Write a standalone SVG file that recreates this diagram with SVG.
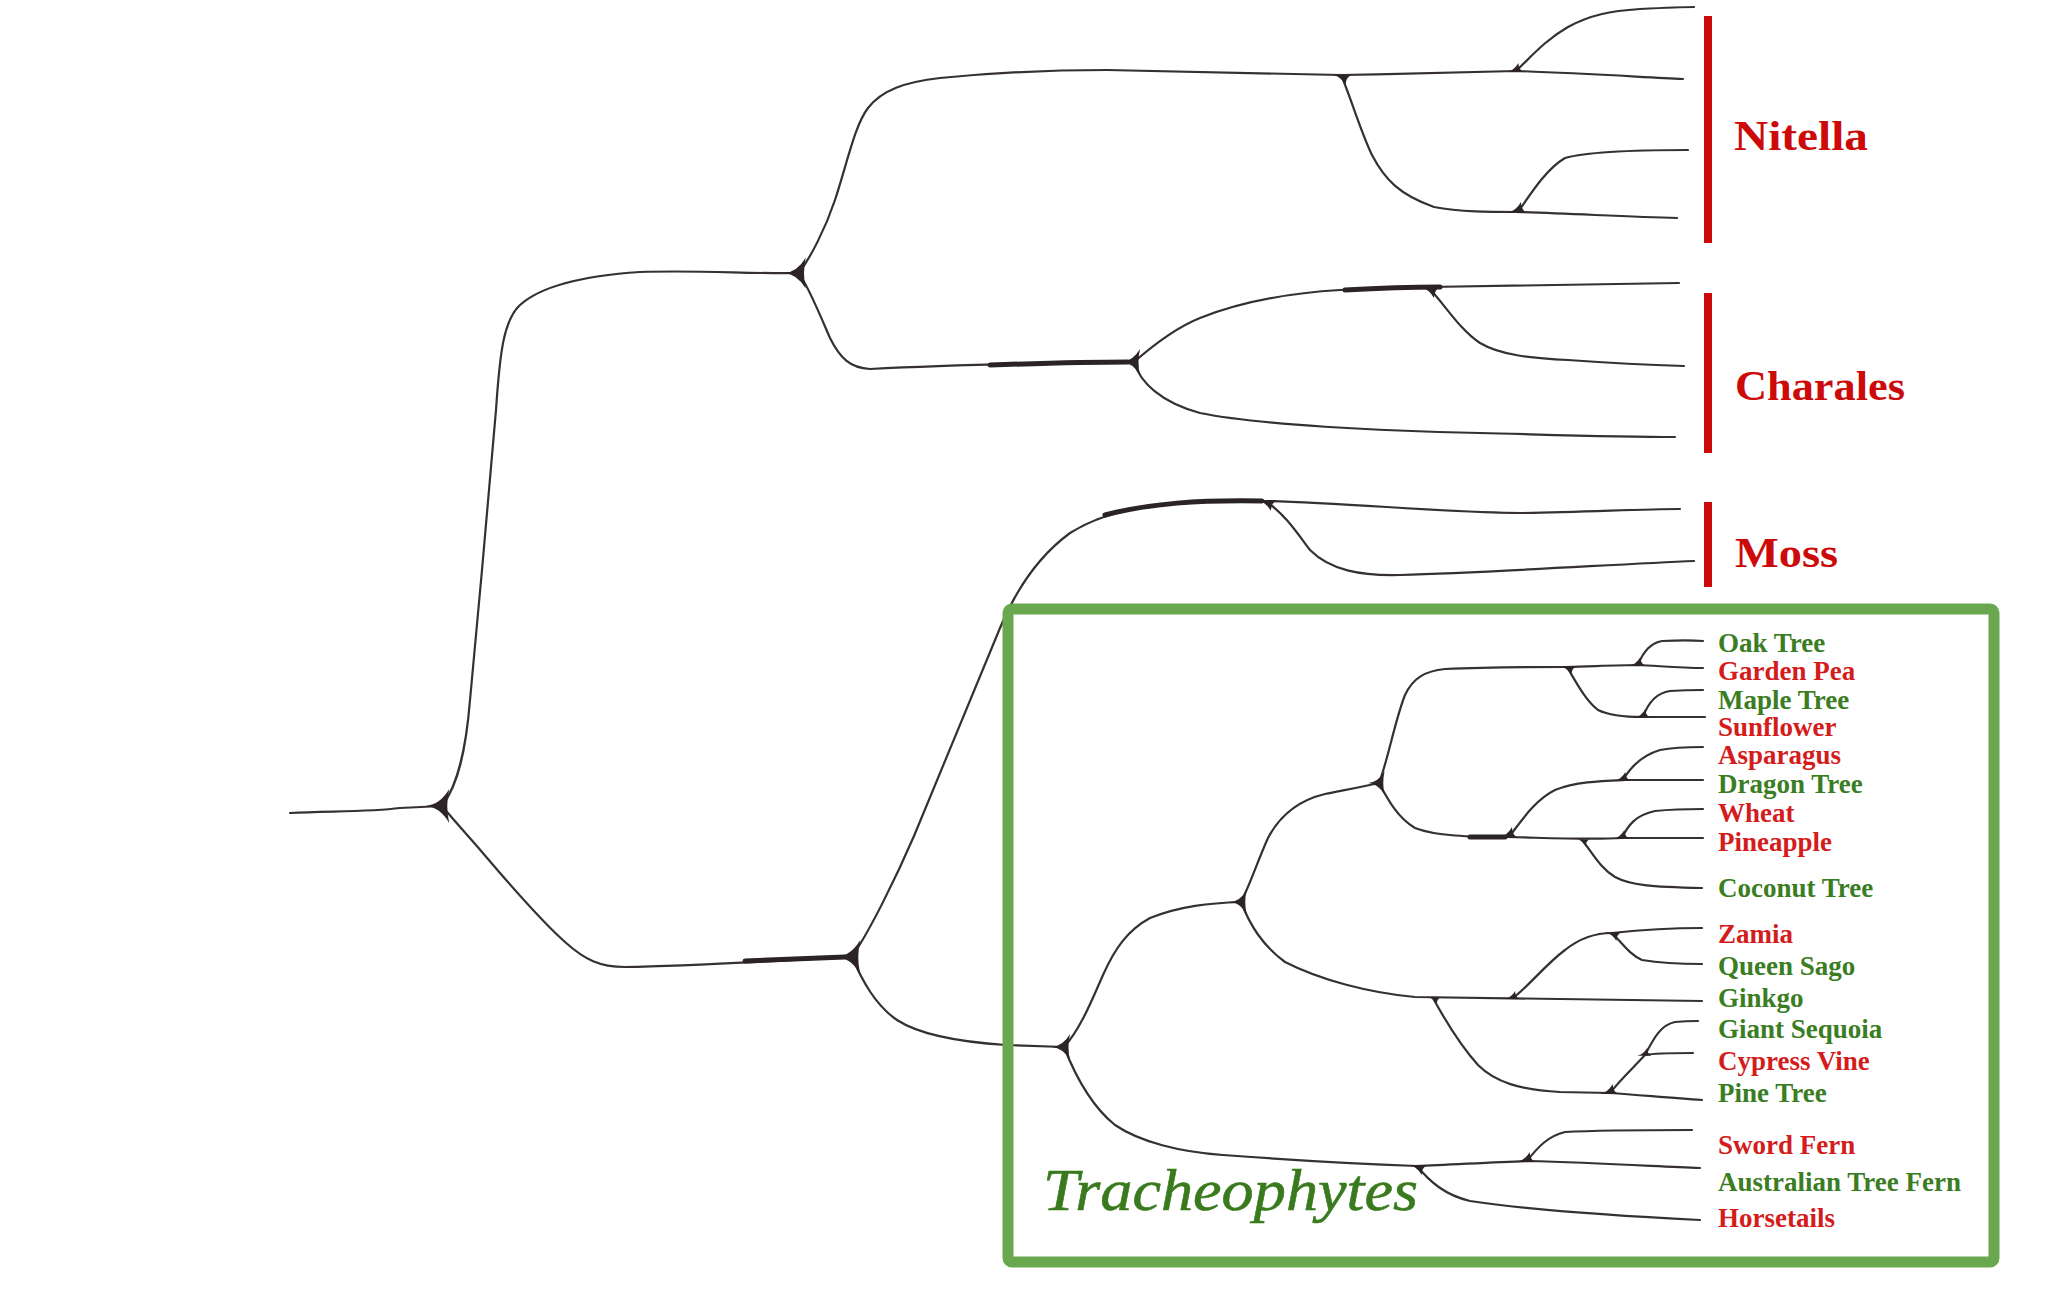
<svg xmlns="http://www.w3.org/2000/svg" xmlns:xlink="http://www.w3.org/1999/xlink" width="2048" height="1293" viewBox="0 0 2048 1293">
<style>
.br{fill:none;stroke:#363032;stroke-width:2.2;stroke-linecap:round;stroke-linejoin:round}
.thick{fill:none;stroke:#2b2326;stroke-width:5;stroke-linecap:round}
.lbl{font-family:"Liberation Serif","Times New Roman",serif;font-weight:bold;font-size:27px}
.g{fill:#3a7d22}
.r{fill:#d41c1c}
.clade{font-family:"Liberation Serif","Times New Roman",serif;font-weight:bold;font-size:43px;fill:#cc0a0a}
.bar{stroke:#cc0a0a;stroke-width:8}
#connectors use{fill:#2b2326}
</style>
<defs>
<path id="fork" d="M-14,0 Q-3,-1 4,-13 Q1,0 4,13 Q-3,1 -14,0 Z"/>
<path id="wedgeUp" d="M-11,1 Q-2,-1 3,-10 Q3,-2 9,1 Z"/>
<path id="wedgeDown" d="M-11,-1 Q-2,1 3,10 Q3,2 9,-1 Z"/>
</defs>
<rect width="2048" height="1293" fill="#ffffff"/>

<g id="connectors">
<!-- root -->
<path class="br" d="M290,813 C330,811 370,812 400,808 L442,806"/>
<path class="br" d="M442,806 C458,785 466,750 470,700 L482,570 L496,410 C500,350 504,320 520,305 C540,287 580,276 640,272 C700,270 750,274 797,273"/>
<path class="br" d="M442,806 C458,825 470,838 482,852 C510,885 540,920 565,942 C585,960 600,967 625,967 C680,966 760,962 852,957"/>
<!-- Nitella / Charales -->
<path class="br" d="M799,273 C810,258 825,230 835,200 C848,160 855,125 868,108 C882,90 905,82 940,78 C1000,72 1050,70 1107,70 C1180,72 1260,74 1341,75"/>
<path class="br" d="M1341,75 C1400,74 1460,72 1516,71 C1580,73 1640,77 1683,79"/>
<path class="br" d="M1516,71 C1530,58 1545,40 1568,27 C1590,15 1610,11 1640,9 C1660,8 1680,7 1694,7"/>
<path class="br" d="M1341,75 C1350,95 1360,130 1372,155 C1385,180 1400,195 1434,207 C1460,212 1490,212 1518,212 C1580,214 1630,217 1677,218"/>
<path class="br" d="M1518,212 C1530,195 1545,170 1565,158 C1590,151 1640,150 1688,150"/>
<path class="br" d="M799,273 C810,290 820,315 830,338 C840,358 850,368 870,369 C930,366 1050,363 1134,362"/>
<path class="br" d="M1134,362 C1150,348 1175,328 1200,318 C1240,302 1290,293 1340,290 C1380,288 1410,287 1429,287 C1520,286 1600,284 1679,283"/>
<path class="br" d="M1429,288 C1445,305 1460,330 1480,343 C1500,355 1530,358 1568,360 C1610,363 1650,365 1684,366"/>
<path class="br" d="M1134,362 C1140,382 1160,402 1200,413 C1260,425 1380,431 1480,433 C1560,435 1620,437 1675,437"/>
<!-- Moss -->
<path class="br" d="M852,957 C870,930 895,880 914,836 L1000,628 C1018,585 1040,555 1070,533 C1110,508 1160,500 1267,501"/>
<path class="br" d="M1267,501 C1350,503 1450,513 1523,513 C1590,512 1640,509 1680,509"/>
<path class="br" d="M1267,502 C1285,515 1295,530 1310,550 C1330,570 1360,576 1400,575 C1500,572 1620,564 1694,561"/>
<!-- Tracheophytes -->
<path class="br" d="M852,957 C862,980 875,1005 897,1020 C920,1035 960,1042 1006,1045 L1064,1047"/>
<path class="br" d="M1064,1047 C1080,1030 1092,1000 1103,975 C1115,948 1128,930 1150,918 C1180,906 1210,903 1241,902"/>
<path class="br" d="M1064,1047 C1075,1075 1090,1105 1115,1125 C1140,1142 1180,1152 1223,1155 C1290,1160 1360,1164 1417,1166"/>
<path class="br" d="M1417,1166 C1450,1165 1490,1162 1527,1161 C1600,1163 1650,1166 1700,1168"/>
<path class="br" d="M1527,1161 C1538,1147 1548,1136 1565,1132 C1600,1130 1650,1130 1692,1130"/>
<path class="br" d="M1417,1166 C1430,1182 1445,1195 1470,1201 C1530,1210 1620,1216 1700,1220"/>
<path class="br" d="M1241,902 C1250,925 1262,945 1285,962 C1320,980 1370,993 1415,997 C1500,999 1600,999 1702,1001"/>
<path class="br" d="M1433,998 C1445,1020 1460,1045 1478,1065 C1495,1082 1520,1090 1560,1092 L1610,1093 C1640,1095 1670,1098 1702,1100"/>
<path class="br" d="M1610,1093 C1620,1080 1633,1068 1645,1055 C1653,1040 1660,1025 1675,1022 C1685,1021 1692,1021 1698,1021"/>
<path class="br" d="M1645,1055 C1655,1053 1670,1053 1693,1053"/>
<path class="br" d="M1513,998 C1530,985 1545,965 1565,950 C1580,938 1595,933 1612,933 C1640,930 1670,928 1702,928"/>
<path class="br" d="M1612,933 C1622,943 1630,955 1642,960 C1660,963 1680,964 1702,964"/>
<path class="br" d="M1241,902 C1250,885 1258,860 1268,838 C1280,815 1300,800 1325,794 C1345,790 1362,787 1379,783"/>
<path class="br" d="M1379,783 C1388,760 1395,720 1405,695 C1413,678 1425,671 1445,669 C1490,667 1530,667 1567,667 C1600,666 1620,665 1638,665 C1660,666 1680,668 1703,668"/>
<path class="br" d="M1638,665 C1643,652 1650,643 1662,641 C1680,640 1692,640 1703,641"/>
<path class="br" d="M1567,667 C1575,680 1585,700 1598,710 C1610,716 1625,717 1643,717 C1665,717 1685,717 1705,717"/>
<path class="br" d="M1643,717 C1648,703 1656,693 1670,691 C1685,690 1695,690 1703,690"/>
<path class="br" d="M1379,783 C1388,800 1398,818 1415,828 C1435,836 1470,837 1509,837 C1550,838 1590,840 1622,838 C1650,838 1680,838 1703,838"/>
<path class="br" d="M1509,837 C1522,820 1535,800 1555,790 C1575,782 1600,781 1623,780 C1650,780 1680,780 1703,780"/>
<path class="br" d="M1623,780 C1630,768 1640,756 1660,750 C1675,747 1690,747 1703,747"/>
<path class="br" d="M1622,838 C1628,825 1636,815 1655,811 C1675,809 1690,809 1703,809"/>
<path class="br" d="M1582,840 C1592,852 1600,868 1615,877 C1630,885 1650,887 1702,888"/>
<!-- thickened segments -->
<path class="thick" d="M745,961 C790,959 820,958 845,957"/>
<path class="thick" d="M990,365 C1050,363 1100,362 1128,362"/>
<path class="thick" d="M1345,290 C1380,288 1410,287 1440,287"/>
<path class="thick" d="M1105,515 C1150,503 1200,500 1262,501"/>
<path class="thick" d="M1470,837 C1490,837 1500,837 1505,837"/>
<!-- junction blobs -->
<use href="#fork" transform="translate(444,806) scale(1.3)"/>
<use href="#fork" transform="translate(801,273) scale(1.2)"/>
<use href="#fork" transform="translate(855,957) scale(1.3)"/>
<use href="#fork" transform="translate(1136,362) scale(1)"/>
<use href="#fork" transform="translate(1066,1047) scale(1)"/>
<use href="#fork" transform="translate(1243,902) scale(0.9)"/>
<use href="#fork" transform="translate(1381,783) scale(0.9)"/>
<use href="#wedgeDown" transform="translate(1343,76) scale(0.9)"/>
<use href="#wedgeDown" transform="translate(1431,288) scale(1)"/>
<use href="#wedgeDown" transform="translate(1268,501) scale(1)"/>
<use href="#wedgeDown" transform="translate(1569,667) scale(0.8)"/>
<use href="#wedgeDown" transform="translate(1419,1166) scale(0.9)"/>
<use href="#wedgeDown" transform="translate(1435,998) scale(0.6)"/>
<use href="#wedgeDown" transform="translate(1584,840) scale(0.6)"/>
<use href="#wedgeDown" transform="translate(1614,933) scale(0.8)"/>
<use href="#wedgeUp" transform="translate(1516,71) scale(0.8)"/>
<use href="#wedgeUp" transform="translate(1518,212) scale(1)"/>
<use href="#wedgeUp" transform="translate(1638,665) scale(0.8)"/>
<use href="#wedgeUp" transform="translate(1643,717) scale(0.8)"/>
<use href="#wedgeUp" transform="translate(1509,837) scale(1)"/>
<use href="#wedgeUp" transform="translate(1623,780) scale(0.8)"/>
<use href="#wedgeUp" transform="translate(1622,838) scale(0.8)"/>
<use href="#wedgeUp" transform="translate(1610,1093) scale(0.9)"/>
<use href="#wedgeUp" transform="translate(1645,1055) scale(0.7)"/>
<use href="#wedgeUp" transform="translate(1527,1161) scale(0.9)"/>
<use href="#wedgeUp" transform="translate(1513,998) scale(0.7)"/>
</g>

<g id="tracheophytes-box">
<rect x="1008" y="609" width="986" height="653" rx="4" fill="none" stroke="#6aa84f" stroke-width="11"/>
<text x="1043" y="1210" font-family="'Liberation Serif','Times New Roman',serif" font-style="italic" font-size="60" fill="#3a7a1e" stroke="#3a7a1e" stroke-width="0.6" textLength="375" lengthAdjust="spacingAndGlyphs">Tracheophytes</text>
</g>

<g id="clade-nitella">
<line class="bar" x1="1708" y1="16" x2="1708" y2="243"/>
<text class="clade" x="1734" y="150" textLength="134" lengthAdjust="spacingAndGlyphs">Nitella</text>
</g>
<g id="clade-charales">
<line class="bar" x1="1708" y1="293" x2="1708" y2="453"/>
<text class="clade" x="1735" y="400" textLength="170" lengthAdjust="spacingAndGlyphs">Charales</text>
</g>
<g id="clade-moss">
<line class="bar" x1="1708" y1="502" x2="1708" y2="587"/>
<text class="clade" x="1735" y="567" textLength="103" lengthAdjust="spacingAndGlyphs">Moss</text>
</g>

<g id="leaf-oak-tree"><text class="lbl g" x="1718" y="652">Oak Tree</text></g>
<g id="leaf-garden-pea"><text class="lbl r" x="1718" y="680">Garden Pea</text></g>
<g id="leaf-maple-tree"><text class="lbl g" x="1718" y="709">Maple Tree</text></g>
<g id="leaf-sunflower"><text class="lbl r" x="1718" y="736">Sunflower</text></g>
<g id="leaf-asparagus"><text class="lbl r" x="1718" y="764">Asparagus</text></g>
<g id="leaf-dragon-tree"><text class="lbl g" x="1718" y="793">Dragon Tree</text></g>
<g id="leaf-wheat"><text class="lbl r" x="1718" y="822">Wheat</text></g>
<g id="leaf-pineapple"><text class="lbl r" x="1718" y="851">Pineapple</text></g>
<g id="leaf-coconut-tree"><text class="lbl g" x="1718" y="897">Coconut Tree</text></g>
<g id="leaf-zamia"><text class="lbl r" x="1718" y="943">Zamia</text></g>
<g id="leaf-queen-sago"><text class="lbl g" x="1718" y="975">Queen Sago</text></g>
<g id="leaf-ginkgo"><text class="lbl g" x="1718" y="1007">Ginkgo</text></g>
<g id="leaf-giant-sequoia"><text class="lbl g" x="1718" y="1038">Giant Sequoia</text></g>
<g id="leaf-cypress-vine"><text class="lbl r" x="1718" y="1070">Cypress Vine</text></g>
<g id="leaf-pine-tree"><text class="lbl g" x="1718" y="1102">Pine Tree</text></g>
<g id="leaf-sword-fern"><text class="lbl r" x="1718" y="1154">Sword Fern</text></g>
<g id="leaf-australian-tree-fern"><text class="lbl g" x="1718" y="1191">Australian Tree Fern</text></g>
<g id="leaf-horsetails"><text class="lbl r" x="1718" y="1227">Horsetails</text></g>
</svg>
